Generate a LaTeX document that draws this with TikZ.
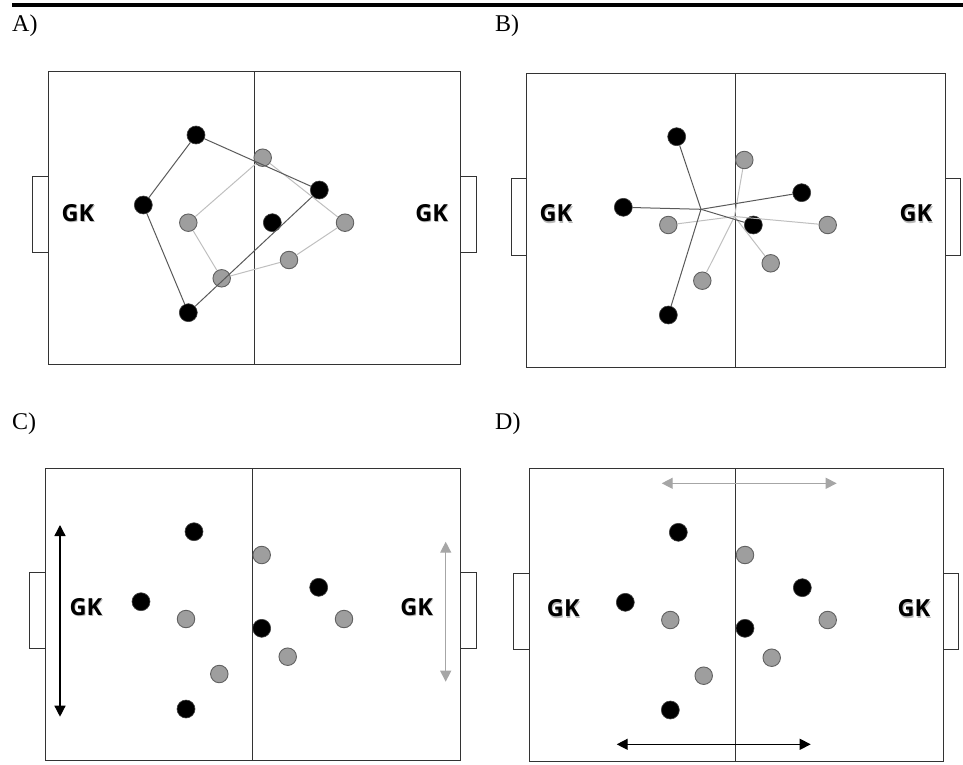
\documentclass[tikz,border=0pt]{standalone}
\usepackage{fontspec}
\setmainfont{Liberation Serif}
\newfontfamily\gkfont{Open Sans}
\usetikzlibrary{arrows.meta, positioning}
\tikzset{
  pitchline/.style={draw=black!80, line width=0.9pt},
  blackp/.style={% black players
      circle, inner sep=0pt, minimum size=18pt,
      fill=black, draw=black!75, line width=0.6pt,
  },
  grayp/.style={% gray players
      circle, inner sep=0pt, minimum size=17.5pt,
      fill=black!38, draw=black!62, line width=0.9pt,
  },
  gk/.style={font=\gkfont\bfseries\fontsize{23.5}{23.5}\selectfont, inner sep=0pt, text=black},
  gkshadow/.style={gk, text=black!28},
  panel/.style={font=\fontsize{24}{28}\selectfont, inner sep=0pt, anchor=base west},
  darklink/.style={draw=black!65, line width=1pt},
  lightlink/.style={draw=black!25, line width=1pt},
  runarrow/.style={line width=1.4pt, {Triangle[length=11pt,width=11pt]}-{Triangle[length=11pt,width=11pt]}},
}
\begin{document}
\begin{tikzpicture}[x=1pt,y=-1pt]
  \useasboundingbox (0,0) rectangle (963,765);
  \draw[line width=3.5pt] (12,5) -- (963,5);
  % pitches: tag/left/top/right/bottom/mid/goal top/goal bottom/GK left/GK right/GK y
  \foreach \tag/\l/\t/\r/\b/\m/\gt/\gb/\kl/\kr/\ky in {
      A/48.3/71.7/460.7/364.3/254/176.7/252.3/78/431.7/213,
      B/526.7/73.3/945/367.7/735.3/178.3/255/556/916/213.3,
      C/45/468.3/460.7/760/252.3/572.3/648.3/86/416.7/606.7,
      D/529.3/468.7/943.3/761.7/735.7/573/649.3/563.3/914/608.3} {
    \draw[pitchline] (\l,\t) rectangle (\r,\b);
    \draw[pitchline] (\m,\t) -- (\m,\b);
    \draw[pitchline] (\l,\gt) -- ++(-15.5,0) |- (\l,\gb);
    \draw[pitchline] (\r,\gt) -- ++(15.5,0) |- (\r,\gb);
    \node[gkshadow] (\tag-gkls) at (\kl+0.8,\ky+1.6) {GK};
    \node[gk] (\tag-gkl) at (\kl,\ky) {GK};
    \node[gkshadow] (\tag-gkrs) at (\kr+0.8,\ky+1.6) {GK};
    \node[gk] (\tag-gkr) at (\kr,\ky) {GK};
  }
  \node[panel] (labA) at (12,32) {A)};
  \node[panel] (labB) at (495,32) {B)};
  \node[panel] (labC) at (12,429) {C)};
  \node[panel] (labD) at (495,429) {D)};
  % players A
  \foreach \n/\x/\y in {b1/196/135, b2/143.3/205, b3/188.3/312.7, b4/319.3/190, b5/272.3/222.7}
    \node[blackp] (A-\n) at (\x,\y) {};
  \foreach \n/\x/\y in {g1/262.7/157.7, g2/188.3/222.7, g3/221.7/278.3, g4/289/260, g5/345/222.7}
    \node[grayp] (A-\n) at (\x,\y) {};
  \draw[lightlink] (A-g1) -- (A-g5) -- (A-g4) -- (A-g3) -- (A-g2) -- (A-g1);
  \draw[darklink] (A-b1) -- (A-b4) -- (A-b3) -- (A-b2) -- (A-b1);
  % players B
  \foreach \n/\x/\y in {b1/676.7/136.7, b2/623.3/207.3, b3/668.3/315, b4/801.7/192.7, b5/753.3/225}
    \node[blackp] (B-\n) at (\x,\y) {};
  \foreach \n/\x/\y in {g1/744.3/160, g2/668.3/225, g3/702.3/280.7, g4/770.7/263.3, g5/827.7/225}
    \node[grayp] (B-\n) at (\x,\y) {};
  \coordinate (B-bc) at (701,209.3);
  \coordinate (B-gc) at (734.5,216.5);
  \foreach \n in {g1,g2,g3,g4,g5}
    \draw[lightlink] (B-gc) -- (B-\n);
  \foreach \n in {b1,b2,b3,b4,b5}
    \draw[darklink] (B-bc) -- (B-\n);
  % players C
  \foreach \n/\x/\y in {b1/194/531.7, b2/141/601.7, b3/186/709, b4/318.7/587.3, b5/261.7/628.3}
    \node[blackp] (C-\n) at (\x,\y) {};
  \foreach \n/\x/\y in {g1/261.7/555, g2/186/619, g3/219.3/674, g4/287.7/656.7, g5/344/619}
    \node[grayp] (C-\n) at (\x,\y) {};
  \coordinate (C-bt) at (60,525);
  \coordinate (C-bb) at (60,716.7);
  \coordinate (C-gt) at (445.7,541.7);
  \coordinate (C-gb) at (445.7,681.7);
  \draw[runarrow, black] (C-bt) -- (C-bb);
  \draw[runarrow, black!35] (C-gt) -- (C-gb);
  % players D
  \foreach \n/\x/\y in {b1/678.3/532.3, b2/625.3/602.3, b3/670.3/710, b4/802.3/587.7, b5/745/628.3}
    \node[blackp] (D-\n) at (\x,\y) {};
  \foreach \n/\x/\y in {g1/745/555, g2/670.3/620, g3/703.7/675.7, g4/771.7/657.7, g5/827.7/620}
    \node[grayp] (D-\n) at (\x,\y) {};
  \coordinate (D-gl) at (661.7,483.3);
  \coordinate (D-gr) at (836.7,483.3);
  \coordinate (D-bl) at (616.7,744.3);
  \coordinate (D-br) at (810.7,744.3);
  \draw[runarrow, black!35] (D-gl) -- (D-gr);
  \draw[runarrow, black] (D-bl) -- (D-br);
\end{tikzpicture}
\end{document}
